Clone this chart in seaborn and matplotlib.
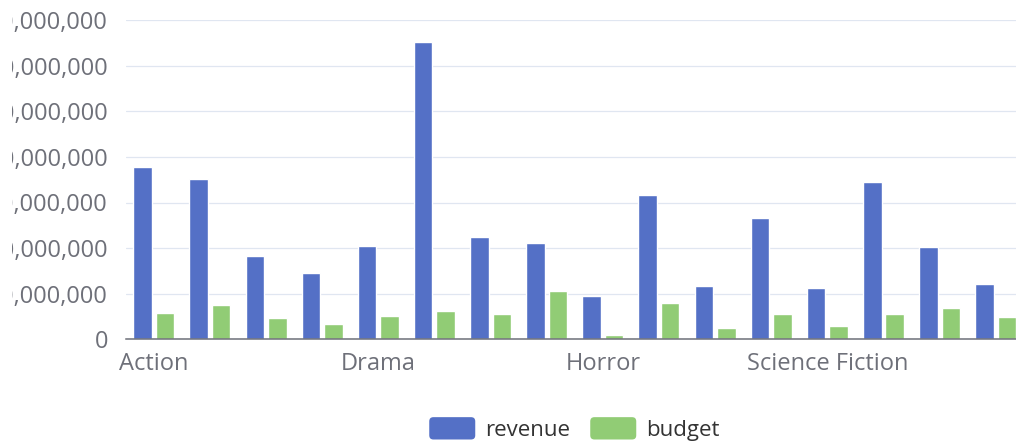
import numpy as np
import pandas as pd
import seaborn as sns
from matplotlib import pyplot as plt
from matplotlib.patches import FancyBboxPatch, Patch
from matplotlib.legend_handler import HandlerBase
from matplotlib.ticker import FuncFormatter, FixedLocator
from matplotlib.transforms import Bbox, TransformedBbox


# data

generos = ['Action', 'Adventure', 'Comedy', 'Crime', 'Drama', 'Family',
           'Fantasy', 'History', 'Horror', 'Music', 'Mystery', 'Romance',
           'Science Fiction', 'Thriller', 'War', 'Western']

revenue = [377e6, 351e6, 183e6, 146e6, 204e6, 653e6, 225e6, 211e6,
           96e6, 316e6, 117e6, 267e6, 112e6, 346e6, 202e6, 121e6]

budget = [57e6, 75e6, 46e6, 34e6, 52e6, 63e6, 55e6, 107e6,
          9e6, 80e6, 25e6, 56e6, 29e6, 55e6, 68e6, 50e6]

etiquetas_y = [0, 100e6, 200e6, 300e6, 400e6, 500e6, 600e6, 700e6]
etiquetas_x = ['Action', 'Drama', 'Horror', 'Science Fiction']

colores = ['#5470c6', '#91cc75']
gris = '#6e7079'


class ManijaRedonda(HandlerBase):
    def create_artists(self, legend, orig_handle, xdescent, ydescent,
                       width, height, fontsize, trans):
        p = FancyBboxPatch((-xdescent, -ydescent), width, height,
                           boxstyle='round,pad=0,rounding_size=3',
                           facecolor=orig_handle.get_facecolor(),
                           edgecolor='none', transform=trans)
        return [p]


sns.set_style('white')
plt.rcParams['font.family'] = ['Open Sans', 'DejaVu Sans']

df = pd.DataFrame({
    'genero': generos * 2,
    'valor': revenue + budget,
    'serie': ['revenue'] * len(generos) + ['budget'] * len(generos),
})

fig = plt.figure(figsize=(10.16, 4.45), dpi=100)
ax = fig.add_axes([125.7 / 1016, 105.7 / 445, (1023.8 - 125.7) / 1016, 319.2 / 445])

sns.barplot(data=df, x='genero', y='valor', hue='serie', order=generos,
            hue_order=['revenue', 'budget'], palette=colores,
            width=0.8, gap=0.175, legend=False, ax=ax, saturation=1)

ax.set_xlim(-0.5, len(generos) - 0.5)
ax.set_ylim(0, 700e6)
ax.set_xlabel('')
ax.set_ylabel('')

# ejes
ax.set_yticks(etiquetas_y)
ax.yaxis.set_major_formatter(FuncFormatter(lambda v, p: f'{int(v):,}'))
ax.tick_params(axis='y', length=0, pad=12.7, labelsize=17, labelcolor=gris)
ax.yaxis.grid(True, color='#e0e6f1', linewidth=0.9)
ax.set_axisbelow(True)

# las etiquetas del eje y quedan cortadas a la izquierda, como en el original
recorte = TransformedBbox(Bbox([[12 / 1016, 0], [1, 1]]), fig.transFigure)
for t in ax.get_yticklabels():
    t.set_clip_box(recorte)
    t.set_clip_on(True)

pos = [generos.index(g) for g in etiquetas_x]
ax.set_xticks(pos)
ax.set_xticklabels(etiquetas_x)
ax.tick_params(axis='x', length=0, pad=9.5, labelsize=17, labelcolor=gris)
ax.xaxis.set_minor_locator(FixedLocator([p - 0.5 for p in pos]))
ax.tick_params(axis='x', which='minor', length=5, width=1.2, color=gris)

for s in ['top', 'right', 'left']:
    ax.spines[s].set_visible(False)
ax.spines['bottom'].set_color(gris)
ax.spines['bottom'].set_linewidth(1.1)

# leyenda
manijas = [Patch(facecolor=colores[0], label='revenue'),
           Patch(facecolor=colores[1], label='budget')]
leg = fig.legend(handles=manijas, loc='center', ncol=2, frameon=False,
                 bbox_to_anchor=(574.5 / 1016, 1 - 429 / 445),
                 bbox_transform=fig.transFigure, fontsize=16,
                 handlelength=2.07, handleheight=1.17, handletextpad=0.45,
                 columnspacing=0.9, borderpad=0,
                 handler_map={Patch: ManijaRedonda()})
for t in leg.get_texts():
    t.set_color('#333333')

plt.savefig('out.png', dpi=100)
